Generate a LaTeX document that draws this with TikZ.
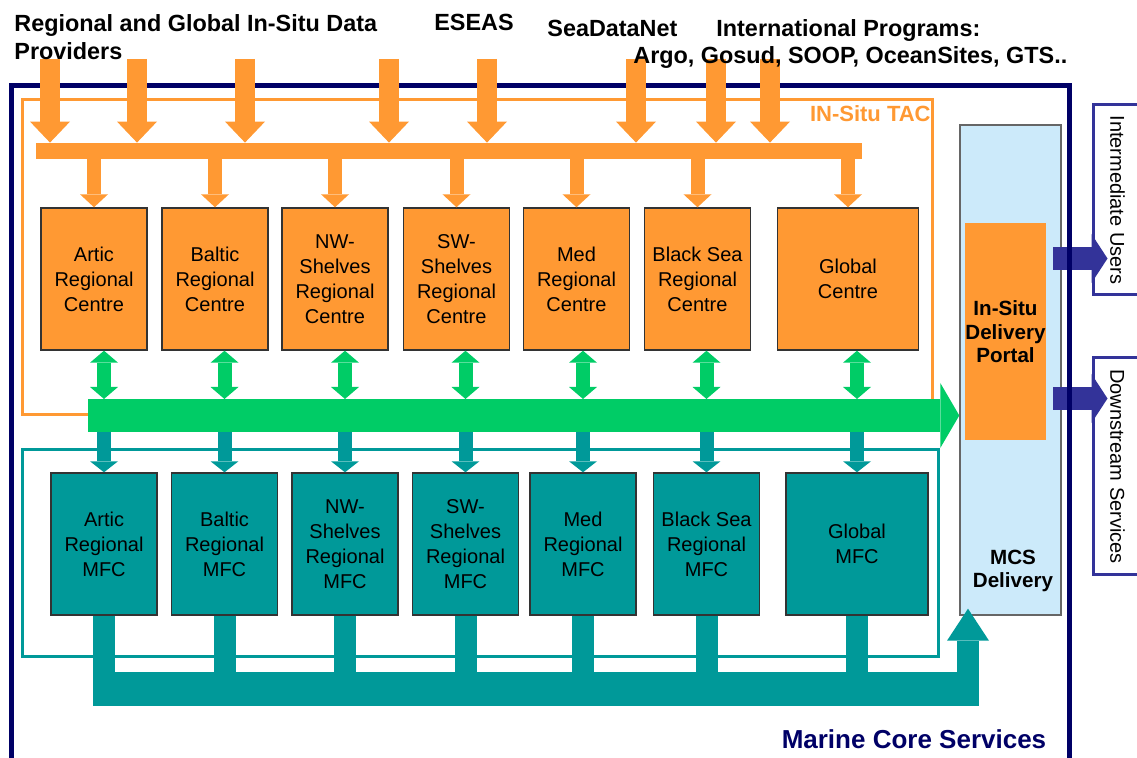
\documentclass[tikz,border=0pt]{standalone}
\usepackage{fontspec}
\setmainfont{Liberation Sans}
\usepackage{graphicx}
\usetikzlibrary{arrows.meta}

\definecolor{tacorange}{HTML}{FF9933}
\definecolor{busgreen}{HTML}{00CC66}
\definecolor{mfcteal}{HTML}{009999}
\definecolor{portalblue}{HTML}{CCEAFA}
\definecolor{mcsnavy}{HTML}{000066}
\definecolor{usernavy}{HTML}{333399}

\begin{document}
\begin{tikzpicture}[x=0.5pt, y=-0.5pt,
    boxtext/.style={align=center, font=\fontsize{10}{12.5}\selectfont},
    centre/.style={boxtext, draw=black!80, line width=0.7pt, fill=tacorange, minimum width=53pt, minimum height=71pt, inner sep=0pt},
    mfc/.style={centre, fill=mfcteal},
    boldtext/.style={align=center, font=\bfseries\fontsize{10.3}{11.8}\selectfont, inner sep=0pt},
    toplabel/.style={font=\bfseries\fontsize{11.7}{14}\selectfont, inner sep=0pt},
    feed/.style={tacorange, line width=10pt, -{Triangle[width=20pt, length=10.5pt, line width=0pt]}},
    drop/.style={tacorange, line width=7pt, -{Triangle[width=14pt, length=6.5pt, line width=0pt]}},
    link/.style={busgreen, line width=7pt, {Triangle[width=14pt, length=6pt, line width=0pt]}-{Triangle[width=14pt, length=6pt, line width=0pt]}},
    tap/.style={mfcteal, line width=7pt, -{Triangle[width=14pt, length=5.5pt, line width=0pt]}},
    sink/.style={mfcteal, line width=11pt},
    hand/.style={usernavy, line width=11.5pt, -{Triangle[width=24.5pt, length=8pt, line width=0pt]}},
    outbox/.style={draw=usernavy, line width=1.5pt, fill=white, inner sep=0pt, font=\fontsize{10}{12}\selectfont}
]
\useasboundingbox (0,0) rectangle (1137,758);

% delivery side
\node[draw=black!60, line width=0.7pt, fill=portalblue, minimum width=50.5pt, minimum height=245pt] (mcs) at (1010.5,370) {};
\node[boldtext] (mcstext) at (1013,571) {MCS\\Delivery};
\node[boldtext, fill=tacorange, minimum width=37.5pt, minimum height=108.5pt] (portal) at (1005.5,332) {In-Situ\\Delivery\\Portal};
\node[outbox, minimum width=24.5pt, minimum height=95pt] (iusers) at (1117.5,200) {\rotatebox{-90}{Intermediate Users}};
\node[outbox, minimum width=24.5pt, minimum height=108.5pt] (dusers) at (1117.5,466.5) {\rotatebox{-90}{Downstream Services}};

\coordinate (u1) at (1053,258.5);
\coordinate (u2) at (1053,398.5);
\draw[hand, shorten >=-8pt] (u1) -- (u1 -| iusers.west);
\draw[hand, shorten >=-8pt] (u2) -- (u2 -| dusers.west);

% frames
\draw[mcsnavy, line width=2.5pt] (11,780) -- (11,86) -- (1069,86) -- (1069,780);
\draw[tacorange, line width=1.5pt] (22,100) rectangle (932,415);
\draw[mfcteal, line width=1.5pt] (22,450) rectangle (938,657);
\node[anchor=east, text=tacorange, font=\bfseries\fontsize{11}{13}\selectfont, inner sep=0pt] (taclabel) at (931,114) {IN-Situ TAC};

% thematic centres
\node[centre] (artic) at (94,279) {Artic\\Regional\\Centre};
\node[centre] (baltic) at (215,279) {Baltic\\Regional\\Centre};
\node[centre] (nwc) at (335,279) {NW-\\Shelves\\Regional\\Centre};
\node[centre] (swc) at (456.5,279) {SW-\\Shelves\\Regional\\Centre};
\node[centre] (medc) at (576.5,279) {Med\\Regional\\Centre};
\node[centre] (blackc) at (697.5,279) {Black Sea\\Regional\\Centre};
\node[centre, minimum width=70.5pt] (globc) at (848,279) {Global\\Centre};

% forecasting centres
\node[mfc] (articm) at (104,544) {Artic\\Regional\\MFC};
\node[mfc] (balticm) at (224.5,544) {Baltic\\Regional\\MFC};
\node[mfc] (nwm) at (345,544) {NW-\\Shelves\\Regional\\MFC};
\node[mfc] (swm) at (465.5,544) {SW-\\Shelves\\Regional\\MFC};
\node[mfc] (medm) at (583,544) {Med\\Regional\\MFC};
\node[mfc] (blackm) at (706.5,544) {Black Sea\\Regional\\MFC};
\node[mfc, minimum width=71pt] (globm) at (857,544) {Global\\MFC};

% in-situ feeds
\node[fill=tacorange, minimum width=413pt, minimum height=8pt, inner sep=0pt] (inbar) at (449,151) {};
\coordinate (src1) at (50,59);
\coordinate (src2) at (137,59);
\coordinate (src3) at (245,59);
\coordinate (src4) at (389,59);
\coordinate (src5) at (487,59);
\coordinate (src6) at (636,59);
\coordinate (src7) at (716,59);
\coordinate (src8) at (770,59);
\draw[feed] (src1) -- (src1 |- inbar.north);
\draw[feed] (src2) -- (src2 |- inbar.north);
\draw[feed] (src3) -- (src3 |- inbar.north);
\draw[feed] (src4) -- (src4 |- inbar.north);
\draw[feed] (src5) -- (src5 |- inbar.north);
\draw[feed] (src6) -- (src6 |- inbar.north);
\draw[feed] (src7) -- (src7 |- inbar.north);
\draw[feed] (src8) -- (src8 |- inbar.north);

\draw[drop] (inbar.south -| artic.north) -- (artic.north);
\draw[drop] (inbar.south -| baltic.north) -- (baltic.north);
\draw[drop] (inbar.south -| nwc.north) -- (nwc.north);
\draw[drop] (inbar.south -| swc.north) -- (swc.north);
\draw[drop] (inbar.south -| medc.north) -- (medc.north);
\draw[drop] (inbar.south -| blackc.north) -- (blackc.north);
\draw[drop] (inbar.south -| globc.north) -- (globc.north);

% green exchange bus
\coordinate (gstart) at (88,415.5);
\coordinate (gtop) at (0,399);
\coordinate (gbot) at (0,432);
\draw[busgreen, line width=16.5pt, -{Triangle[width=32.5pt, length=9.5pt, line width=0pt]}] (gstart) -- (gstart -| mcs.west);

\draw[link] (articm |- artic.south) -- (articm |- gtop);
\draw[link] (balticm |- baltic.south) -- (balticm |- gtop);
\draw[link] (nwm |- nwc.south) -- (nwm |- gtop);
\draw[link] (swm |- swc.south) -- (swm |- gtop);
\draw[link] (medm |- medc.south) -- (medm |- gtop);
\draw[link] (blackm |- blackc.south) -- (blackm |- gtop);
\draw[link] (globm |- globc.south) -- (globm |- gtop);

\draw[tap] (articm |- gbot) -- (articm.north);
\draw[tap] (balticm |- gbot) -- (balticm.north);
\draw[tap] (nwm |- gbot) -- (nwm.north);
\draw[tap] (swm |- gbot) -- (swm.north);
\draw[tap] (medm |- gbot) -- (medm.north);
\draw[tap] (blackm |- gbot) -- (blackm.north);
\draw[tap] (globm |- gbot) -- (globm.north);

% collector to MCS delivery
\node[fill=mfcteal, minimum width=443pt, minimum height=17pt, inner sep=0pt] (cbus) at (536,689) {};
\draw[sink] (articm.south) -- (articm.south |- cbus.center);
\draw[sink] (balticm.south) -- (balticm.south |- cbus.center);
\draw[sink] (nwm.south) -- (nwm.south |- cbus.center);
\draw[sink] (swm.south) -- (swm.south |- cbus.center);
\draw[sink] (medm.south) -- (medm.south |- cbus.center);
\draw[sink] (blackm.south) -- (blackm.south |- cbus.center);
\draw[sink] (globm.south) -- (globm.south |- cbus.center);
\coordinate (rise) at (968,706);
\draw[mfcteal, line width=11pt, shorten >=-3.5pt, -{Triangle[width=21pt, length=16pt, line width=0pt]}] (rise) -- (rise |- mcs.south);

% labels
\node[toplabel, anchor=north west, align=left] (providers) at (14,14) {Regional and Global In-Situ Data\\Providers};
\node[toplabel, anchor=base] (eseas) at (474,31) {ESEAS};
\node[toplabel, anchor=base west] (seadatanet) at (547,37) {SeaDataNet};
\node[toplabel, anchor=base west] (intprog) at (716,37) {International Programs:};
\node[toplabel, anchor=base west] (argo) at (633,64) {Argo, Gosud, SOOP, OceanSites, GTS..};
\node[text=mcsnavy, font=\bfseries\fontsize{13}{15}\selectfont, inner sep=0pt] (mcslabel) at (914,739) {Marine Core Services};

\end{tikzpicture}
\end{document}
